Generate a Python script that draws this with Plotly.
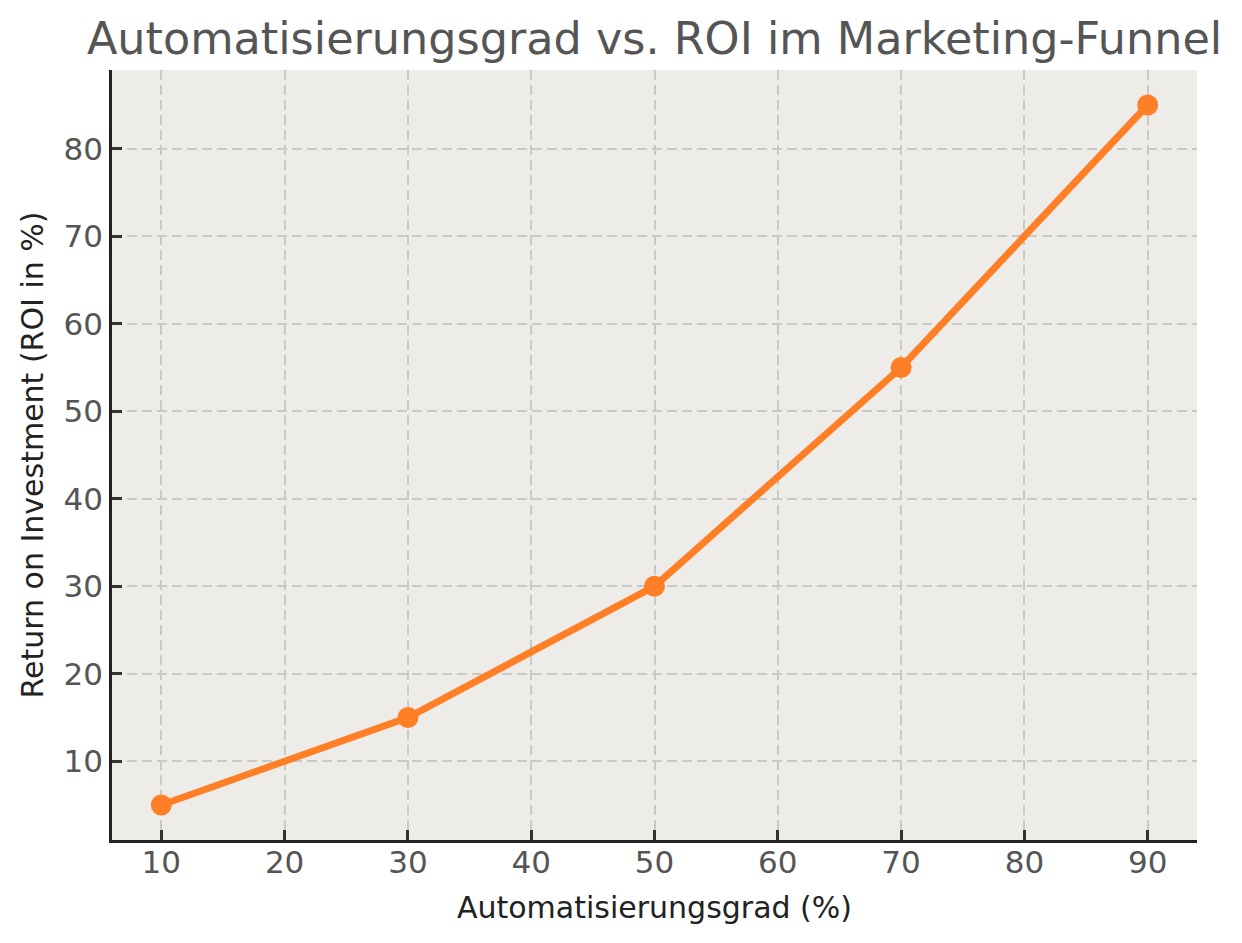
import plotly.graph_objects as go

# -- daten
automatisierung = [10, 30, 50, 70, 90]
roi = [5, 15, 30, 55, 85]
x_ticks = [10, 20, 30, 40, 50, 60, 70, 80, 90]
y_ticks = [10, 20, 30, 40, 50, 60, 70, 80]

fig = go.Figure()
fig.add_trace(go.Scatter(x=automatisierung, y=roi, mode='lines+markers',
                         line=dict(color='#FF7F27', width=7),
                         marker=dict(color='#FF7F27', size=21),
                         showlegend=False))

achse = dict(showline=True, linecolor='#222222', linewidth=2.5, mirror=False,
             ticks='inside', ticklen=10, tickwidth=2.5, tickcolor='#333333',
             showgrid=True, gridcolor='#C9C9C6', griddash='10px,5px', gridwidth=1.5,
             zeroline=False, automargin=False,
             tickfont=dict(family='DejaVu Sans', size=31, color='#555555'))

fig.update_layout(
    width=1242, height=943,
    paper_bgcolor='white', plot_bgcolor='#EDECE8',
    margin=dict(l=104, r=53, t=62, b=111),
    title=dict(text='Automatisierungsgrad vs. ROI im Marketing-Funnel',
               font=dict(family='DejaVu Sans', size=44.5, color='#555555'),
               xref='paper', x=0.5, xanchor='center', y=0.968, yanchor='middle'),
    xaxis=dict(achse, range=[6, 94], tickvals=x_ticks, ticklabelstandoff=-7,
               title=dict(text='Automatisierungsgrad (%)',
                          font=dict(family='DejaVu Sans', size=30, color='#222222'), standoff=19)),
    yaxis=dict(achse, range=[1, 89], tickvals=y_ticks,
               title=dict(text='Return on Investment (ROI in %)',
                          font=dict(family='DejaVu Sans', size=30, color='#222222'), standoff=12)),
)

fig.write_html("out.html")
